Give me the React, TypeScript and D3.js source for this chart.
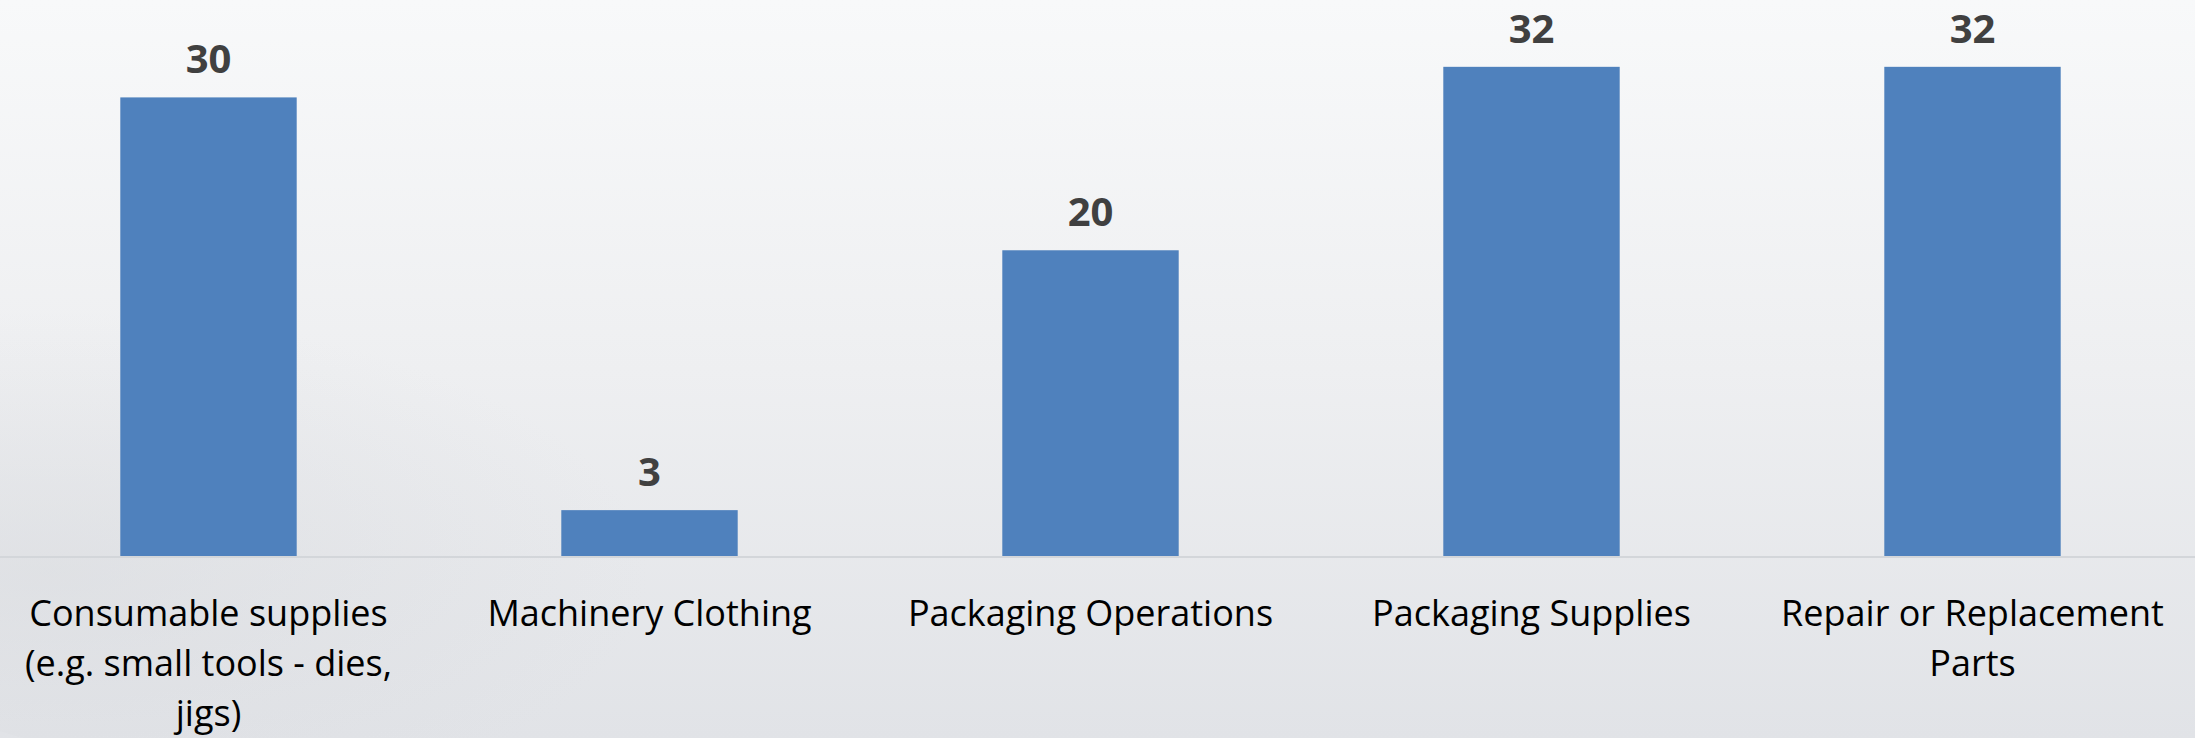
import React from "react";
import * as d3 from "d3";

const categories = [
  "Consumable supplies (e.g. small tools - dies, jigs)",
  "Machinery Clothing",
  "Packaging Operations",
  "Packaging Supplies",
  "Repair or Replacement Parts",
];
const categoryLines = [
  ["Consumable supplies", "(e.g. small tools - dies,", "jigs)"],
  ["Machinery Clothing"],
  ["Packaging Operations"],
  ["Packaging Supplies"],
  ["Repair or Replacement", "Parts"],
];
const values = [30, 3, 20, 32, 32];

const W = 2195;
const H = 738;
const baseY = 556;

export default function App() {
  const x = d3.scaleBand<string>().domain(categories).range([-12, 2193]).paddingInner(0.6).paddingOuter(0.3);
  const y = d3.scaleLinear().domain([0, 30]).range([baseY, 97.4]);
  return (
    <svg width={W} height={H} style={{ position: "absolute", left: 0, top: 0 }} fontFamily="'Open Sans', sans-serif">
      <defs>
        <linearGradient id="bg" x1="0" y1="0" x2="0" y2="1">
          <stop offset="0" stopColor="#f8f9fa" />
          <stop offset="0.5" stopColor="#eeeff1" />
          <stop offset="1" stopColor="#e1e3e7" />
        </linearGradient>
        <radialGradient id="haze" cx="0.25" cy="0.6" r="0.5">
          <stop offset="0" stopColor="#d6d8dc" stopOpacity="0.45" />
          <stop offset="1" stopColor="#d6d8dc" stopOpacity="0" />
        </radialGradient>
      </defs>
      <rect width={W} height={H} fill="url(#bg)" />
      <ellipse cx={350} cy={520} rx={600} ry={260} fill="url(#haze)" />
      <line x1={0} x2={W} y1={baseY + 1} y2={baseY + 1} stroke="#d3d6da" strokeWidth={2} />
      {categories.map((c, i) => {
        const bx = x(c)!;
        const bw = x.bandwidth();
        const top = y(values[i]);
        return (
          <g key={c}>
            <rect x={bx} y={top} width={bw} height={baseY - top} fill="#4F81BD" />
            <text x={bx + bw / 2} y={top - 24} textAnchor="middle" fontWeight={700} fontSize={40} fill="#404040">
              {values[i]}
            </text>
            {categoryLines[i].map((line, j) => (
              <text key={j} x={bx + bw / 2} y={626 + j * 50} textAnchor="middle" fontSize={36} fill="#000">
                {line}
              </text>
            ))}
          </g>
        );
      })}
    </svg>
  );
}
